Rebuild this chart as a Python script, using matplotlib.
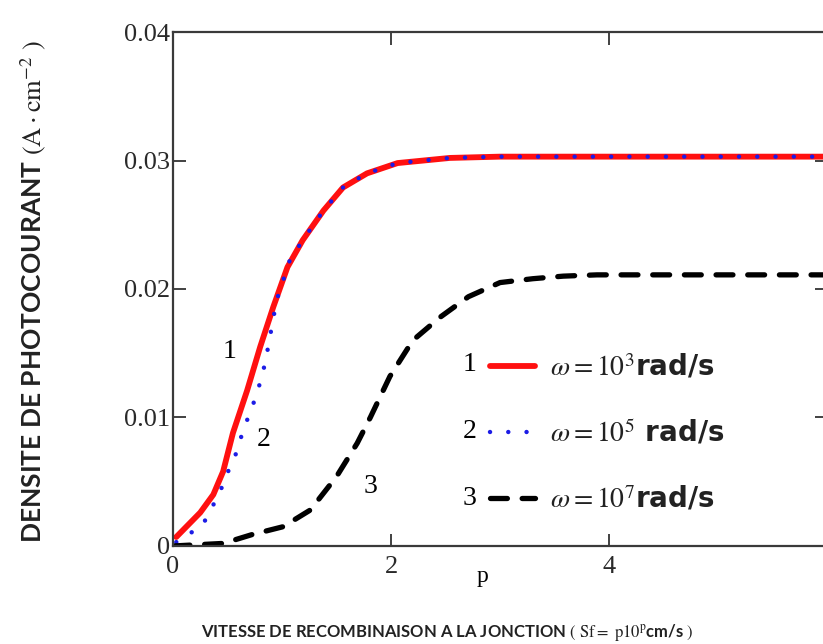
import matplotlib
matplotlib.use("Agg")
import matplotlib.pyplot as plt

plt.rcParams["mathtext.fontset"] = "stix"

# courbe 1 : w = 1e3 rad/s
p1 = [0.03, 0.25, 0.37, 0.46, 0.55, 0.68, 0.80, 0.92, 1.05, 1.19, 1.38, 1.56, 1.78, 2.06, 2.54, 3.0, 6.0]
j1 = [0.0007, 0.0026, 0.0040, 0.0058, 0.0088, 0.0121, 0.0155, 0.0186, 0.0217, 0.0238, 0.0261, 0.0279,
      0.0290, 0.0298, 0.0302, 0.0303, 0.0303]

# courbe 2 : w = 1e5 rad/s
p2 = [0.03, 0.27, 0.37, 0.45, 0.52, 0.60, 0.64, 0.71, 0.77, 0.82, 0.86, 0.89, 0.95, 1.07, 1.19, 1.38,
      1.56, 1.78, 2.06, 2.54, 3.0, 6.0]
j2 = [0.0003, 0.0016, 0.0032, 0.0046, 0.0061, 0.0076, 0.0090, 0.0104, 0.0119, 0.0133, 0.0149, 0.0163,
      0.0191, 0.0222, 0.0238, 0.0261, 0.0279, 0.0290, 0.0298, 0.0302, 0.0303, 0.0303]

# courbe 3 : w = 1e7 rad/s
p3 = [0.0, 0.46, 0.73, 1.01, 1.26, 1.50, 1.69, 1.81, 1.99, 2.20, 2.45, 2.71, 3.0, 3.30, 3.58, 3.89, 6.0]
j3 = [0.0, 0.0002, 0.0009, 0.0015, 0.0028, 0.0054, 0.0080, 0.0100, 0.0132, 0.0160, 0.0178, 0.0194,
      0.0205, 0.0208, 0.0210, 0.0211, 0.0211]

labels = [r"$\omega = 10^{3}$rad/s", r"$\omega = 10^{5}$ rad/s", r"$\omega = 10^{7}$rad/s"]
xticks = [0, 2, 4, 6]
yticks = [0, 0.01, 0.02, 0.03, 0.04]
ytick_labels = ["0", "0.01", "0.02", "0.03", "0.04"]

fig = plt.figure(figsize=(8.23, 6.44), dpi=100)
ax = fig.add_axes([0.2102, 0.1522, 0.7947, 0.7981])

l1, = ax.plot(p1, j1, color="#ff1010", lw=4.2, solid_capstyle="round")
l2, = ax.plot(p2, j2, color="#1c1ce6", lw=3.2, linestyle=(0, (0.01, 4.1)), dash_capstyle="round")
l3, = ax.plot(p3, j3, color="black", lw=3.8, linestyle=(0, (3.2, 2.8)), dash_capstyle="round")

ax.set_xlim(0, 6)
ax.set_ylim(0, 0.04)
ax.set_xticks(xticks)
ax.set_xticklabels(["0", "2", "4", ""])
ax.set_yticks(yticks)
ax.set_yticklabels(ytick_labels)
ax.tick_params(direction="in", length=9, width=1.3, color="#333333", top=True, right=True,
               labelsize=19, labelcolor="#2a2a2a")
ax.tick_params(axis="x", pad=7)
ax.tick_params(axis="y", pad=2)
for lab in ax.get_xticklabels() + ax.get_yticklabels():
    lab.set_family("Liberation Serif")
for s in ax.spines.values():
    s.set_linewidth(1.6)
    s.set_color("#3a3a3a")

# numeros des courbes
ax.text(0.52, 0.0151, "1", fontsize=20, family="Liberation Serif", ha="center", va="center")
ax.text(0.83, 0.0083, "2", fontsize=20, family="Liberation Serif", ha="center", va="center")
ax.text(1.81, 0.0046, "3", fontsize=20, family="Liberation Serif", ha="center", va="center")

ax.text(0.4725, -0.060, "p", transform=ax.transAxes, fontsize=17, family="Liberation Serif",
        ha="center", va="center")

leg = ax.legend([l1, l2, l3], labels, loc="upper left", bbox_to_anchor=(0.485, 0.376),
                frameon=False, fontsize=20, handlelength=1.6, handletextpad=0.55,
                labelspacing=1.32, borderpad=0, borderaxespad=0)
for t in leg.get_texts():
    t.set_color("#222222")
    t.set_family("DejaVu Sans")
    t.set_fontweight("bold")
for k, yy in enumerate([0.354, 0.222, 0.093]):
    ax.text(0.454, yy, str(k + 1), transform=ax.transAxes, fontsize=20,
            family="Liberation Serif", ha="center", va="center")

ax.set_ylabel(r"DENSITE DE PHOTOCOURANT $(\mathrm{A}\cdot\mathrm{cm}^{-2}\ )$", fontsize=19,
              family="Lato", fontweight="bold", color="#222222")
ax.yaxis.set_label_coords(-0.191, 0.494)
ax.set_xlabel(r"VITESSE DE RECOMBINAISON A LA JONCTION $(\ \mathrm{Sf}=\ \mathrm{p}10^{\mathrm{p}}$cm/s$\ )$",
              fontsize=12, family="Lato", fontweight="bold", color="#222222")
ax.xaxis.set_label_coords(0.42, -0.148)

fig.savefig("out.png", dpi=100)
